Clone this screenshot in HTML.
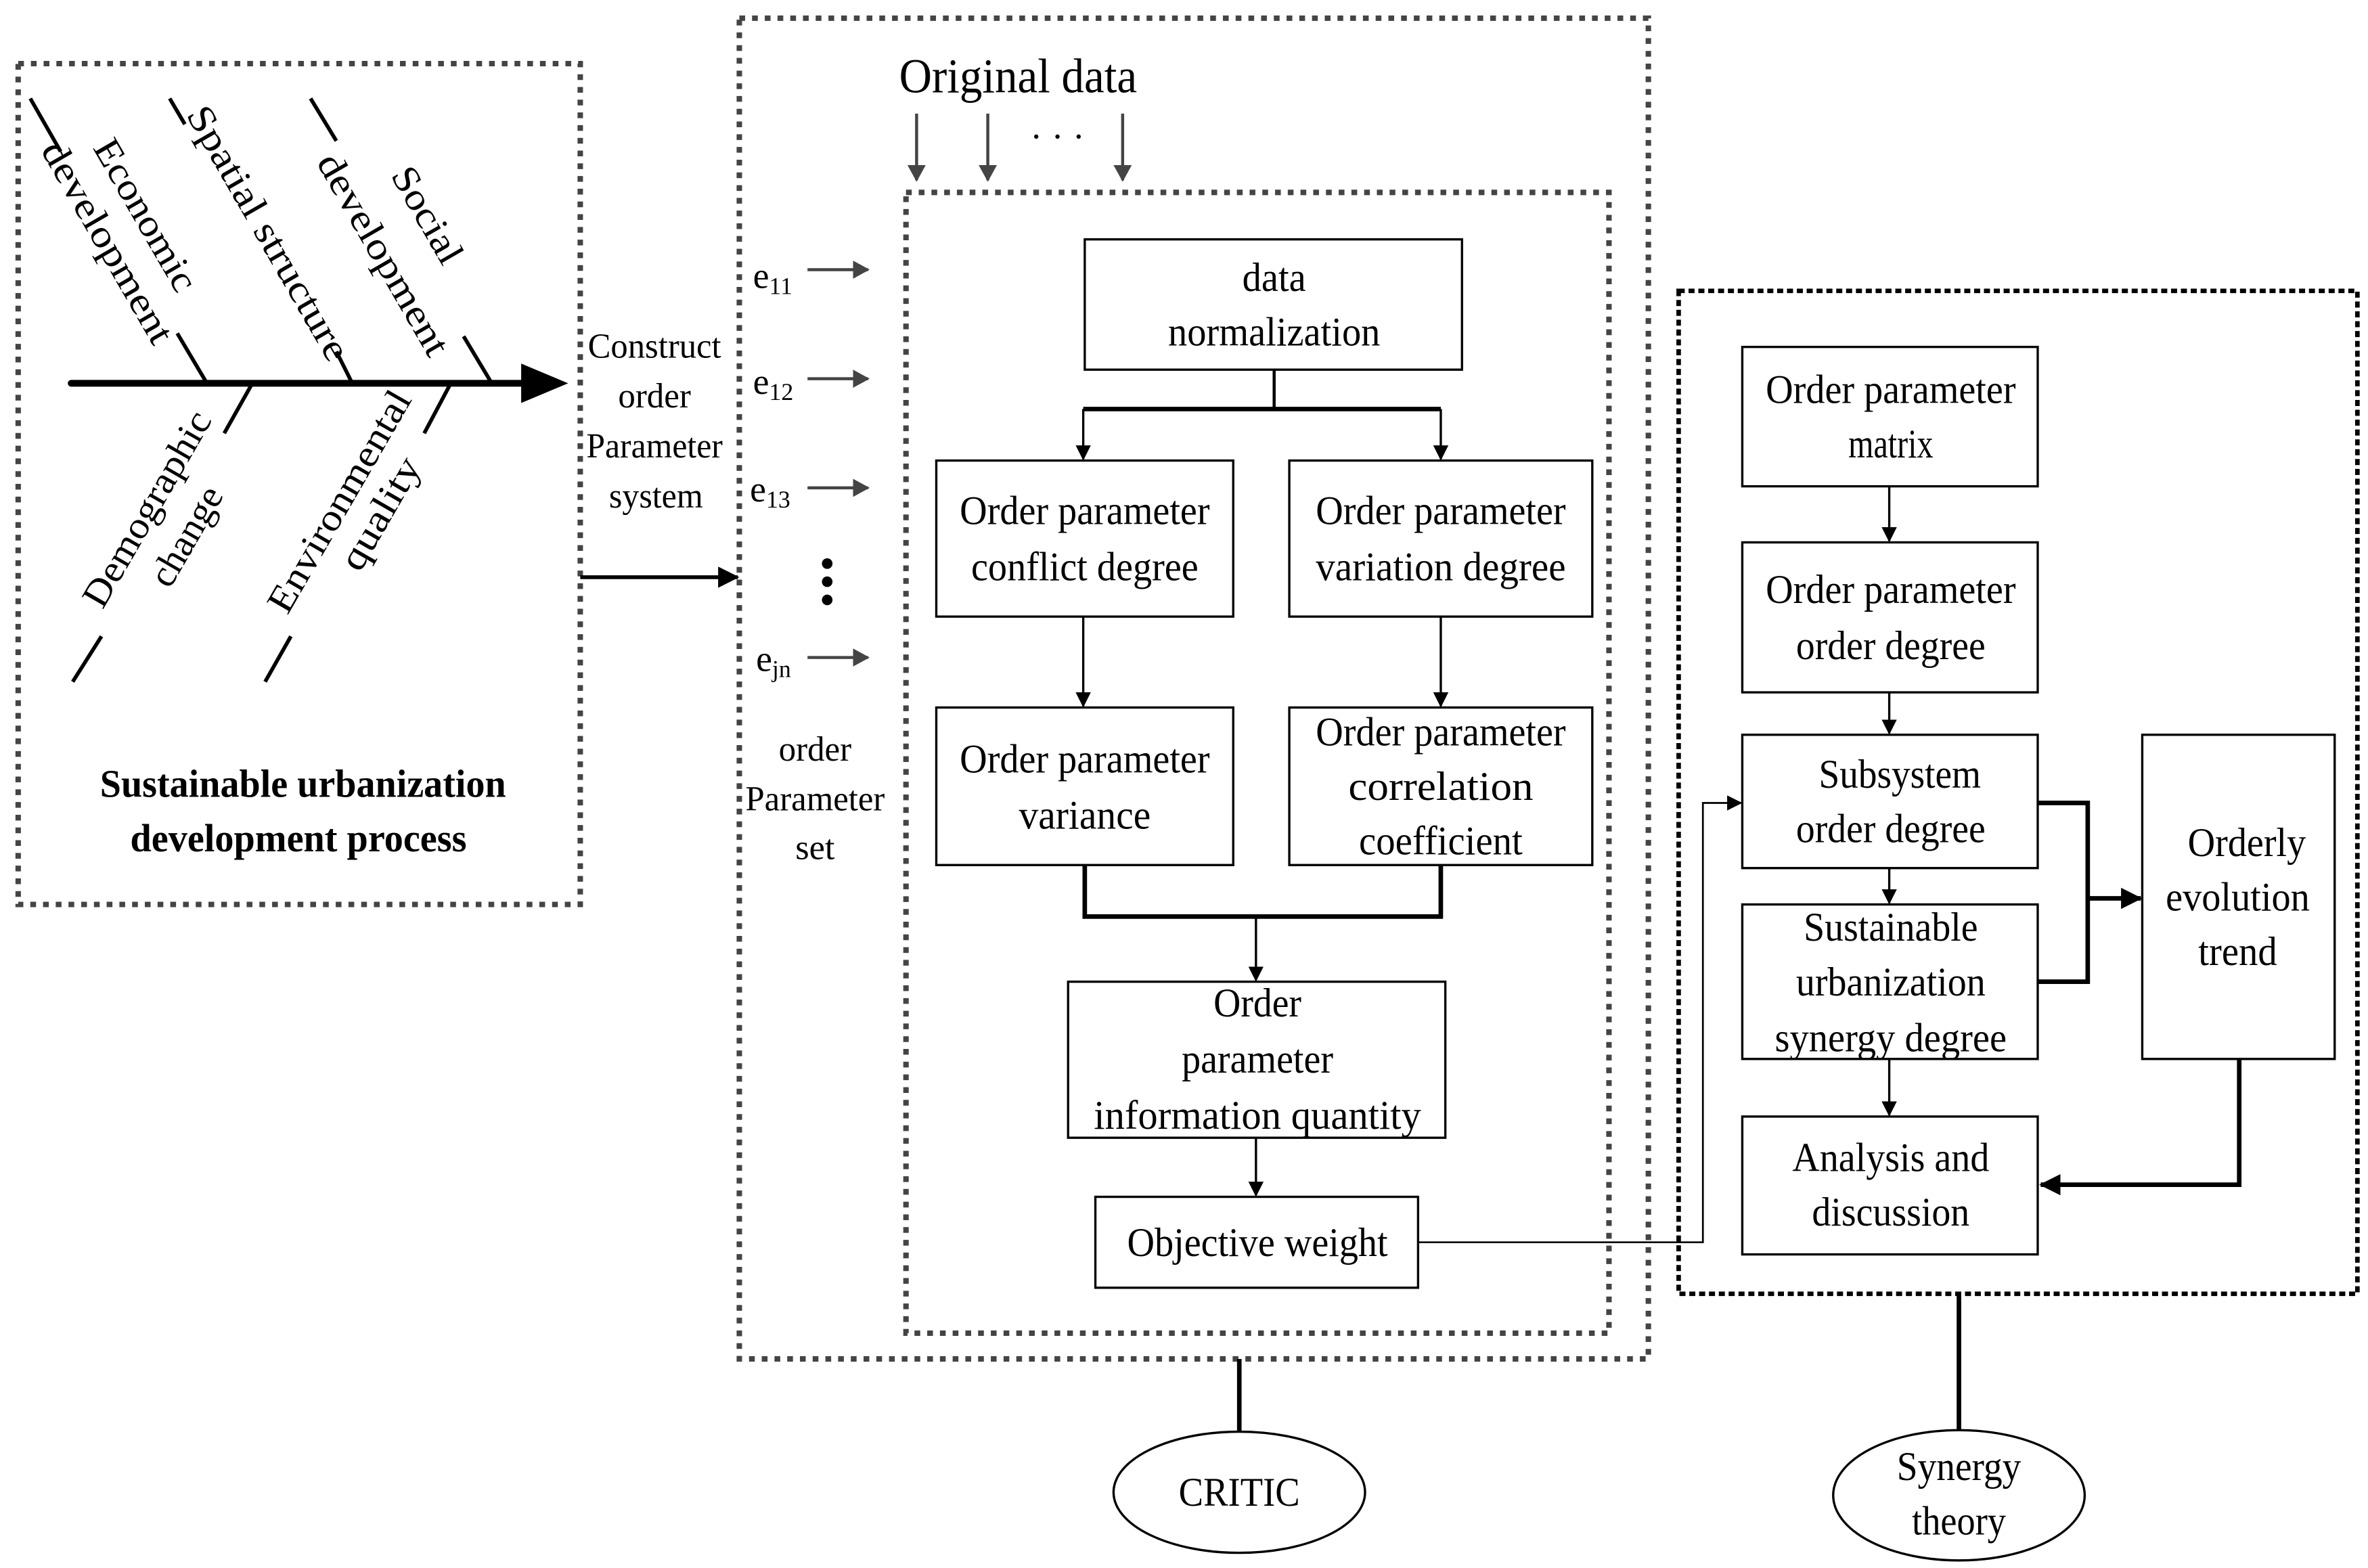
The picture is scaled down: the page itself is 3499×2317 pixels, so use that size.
<!DOCTYPE html>
<html><head><meta charset="utf-8"><style>
html,body{margin:0;padding:0;background:#fff;}
svg{display:block;}
text{font-family:"Liberation Serif",serif;fill:#000;}
</style></head><body>
<svg width="3499" height="2317" viewBox="0 0 1563 1035" preserveAspectRatio="none" xmlns="http://www.w3.org/2000/svg">
<defs>
<marker id="a" markerWidth="10" markerHeight="10" refX="9" refY="5" orient="auto" markerUnits="userSpaceOnUse" viewBox="0 0 10 10"><path d="M0,0 L10,5 L0,10 z" fill="#000"/></marker>
<marker id="g" markerWidth="11" markerHeight="12" refX="10" refY="6" orient="auto" markerUnits="userSpaceOnUse" viewBox="0 0 11 12"><path d="M0,0 L11,6 L0,12 z" fill="#444"/></marker>
<marker id="b" markerWidth="14" markerHeight="14" refX="13" refY="7" orient="auto" markerUnits="userSpaceOnUse" viewBox="0 0 14 14"><path d="M0,0 L14,7 L0,14 z" fill="#000"/></marker>
</defs>

<!-- dotted boxes -->
<g fill="none" stroke="#444" stroke-width="3.6" stroke-dasharray="3.8 4.6">
<rect x="12" y="42" width="371" height="555"/>
<rect x="488" y="12" width="600" height="885"/>
<rect x="598" y="127" width="464" height="753"/>
</g>
<rect x="1108" y="192" width="448" height="662" fill="none" stroke="#000" stroke-width="3" stroke-dasharray="4 2.5"/>

<!-- fishbone -->
<g stroke="#000" stroke-width="2.5" fill="none">
<line x1="20" y1="65" x2="40" y2="100"/><line x1="117" y1="220" x2="136" y2="252"/>
<line x1="112" y1="65" x2="122" y2="82"/><line x1="222" y1="232" x2="232" y2="252"/>
<line x1="205" y1="65" x2="222" y2="93"/><line x1="306" y1="222" x2="324" y2="252"/>
<line x1="166" y1="254" x2="148" y2="286"/><line x1="67" y1="420" x2="48" y2="450"/>
<line x1="297" y1="254" x2="280" y2="286"/><line x1="192" y1="420" x2="175" y2="450"/>
</g>
<line x1="47" y1="253" x2="346" y2="253" stroke="#000" stroke-width="4.5" stroke-linecap="round"/>
<path d="M344,240 L375,253 L344,266 z" fill="#000"/>

<g font-size="25">
<text transform="translate(89,146) rotate(60)" text-anchor="middle" textLength="112" lengthAdjust="spacingAndGlyphs">Economic</text>
<text transform="translate(64,164) rotate(60)" text-anchor="middle" textLength="150" lengthAdjust="spacingAndGlyphs">development</text>
<text transform="translate(170,158) rotate(60)" text-anchor="middle" textLength="190" lengthAdjust="spacingAndGlyphs">Spatial structure</text>
<text transform="translate(275,146) rotate(60)" text-anchor="middle" textLength="70" lengthAdjust="spacingAndGlyphs">Social</text>
<text transform="translate(246,172) rotate(60)" text-anchor="middle" textLength="150" lengthAdjust="spacingAndGlyphs">development</text>
<text transform="translate(104,340) rotate(-60)" text-anchor="middle" textLength="145" lengthAdjust="spacingAndGlyphs">Demographic</text>
<text transform="translate(130,358) rotate(-60)" text-anchor="middle" textLength="72" lengthAdjust="spacingAndGlyphs">change</text>
<text transform="translate(231,335) rotate(-60)" text-anchor="middle" textLength="165" lengthAdjust="spacingAndGlyphs">Environmental</text>
<text transform="translate(258,343) rotate(-60)" text-anchor="middle" textLength="82" lengthAdjust="spacingAndGlyphs">quality</text>
</g>
<g font-size="26" font-weight="bold" text-anchor="middle">
<text x="200" y="526" textLength="268" lengthAdjust="spacingAndGlyphs">Sustainable urbanization</text>
<text x="197" y="562" textLength="222" lengthAdjust="spacingAndGlyphs">development process</text>
</g>

<g font-size="23" text-anchor="middle">
<text x="432" y="236" textLength="88" lengthAdjust="spacingAndGlyphs">Construct</text>
<text x="432" y="269" textLength="48" lengthAdjust="spacingAndGlyphs">order</text>
<text x="432" y="302" textLength="90" lengthAdjust="spacingAndGlyphs">Parameter</text>
<text x="433" y="335" textLength="62" lengthAdjust="spacingAndGlyphs">system</text>
<text x="538" y="502" textLength="48" lengthAdjust="spacingAndGlyphs">order</text>
<text x="538" y="535" textLength="92" lengthAdjust="spacingAndGlyphs">Parameter</text>
<text x="538" y="567" textLength="26" lengthAdjust="spacingAndGlyphs">set</text>
</g>
<line x1="383" y1="381" x2="487" y2="381" stroke="#000" stroke-width="2.5" marker-end="url(#b)"/>

<!-- original data -->
<text x="672" y="61" font-size="32" text-anchor="middle" textLength="157" lengthAdjust="spacingAndGlyphs">Original data</text>
<g stroke="#444" stroke-width="2">
<line x1="605" y1="75" x2="605" y2="119" marker-end="url(#g)"/>
<line x1="652" y1="75" x2="652" y2="119" marker-end="url(#g)"/>
<line x1="741" y1="75" x2="741" y2="119" marker-end="url(#g)"/>
</g>
<text x="698" y="98" font-size="24" text-anchor="middle">· · ·</text>

<!-- e labels -->
<g font-size="24">
<text x="497" y="190">e<tspan font-size="16" dy="4">11</tspan></text>
<text x="497" y="260">e<tspan font-size="16" dy="4">12</tspan></text>
<text x="495" y="331">e<tspan font-size="16" dy="4">13</tspan></text>
<text x="499" y="443">e<tspan font-size="16" dy="4">jn</tspan></text>
</g>
<g stroke="#444" stroke-width="2">
<line x1="533" y1="178" x2="573" y2="178" marker-end="url(#g)"/>
<line x1="533" y1="250" x2="573" y2="250" marker-end="url(#g)"/>
<line x1="533" y1="322" x2="573" y2="322" marker-end="url(#g)"/>
<line x1="533" y1="434" x2="573" y2="434" marker-end="url(#g)"/>
</g>
<g fill="#000"><circle cx="546" cy="372" r="3.5"/><circle cx="546" cy="384" r="3.5"/><circle cx="546" cy="396" r="3.5"/></g>

<!-- CRITIC boxes -->
<g fill="#fff" stroke="#000" stroke-width="1.5">
<rect x="716" y="158" width="249" height="86"/>
<rect x="618" y="304" width="196" height="103"/>
<rect x="851" y="304" width="200" height="103"/>
<rect x="618" y="467" width="196" height="104"/>
<rect x="851" y="467" width="200" height="104"/>
<rect x="705" y="648" width="249" height="103"/>
<rect x="723" y="790" width="213" height="60"/>
</g>
<g font-size="27" text-anchor="middle">
<text x="841" y="192" textLength="42" lengthAdjust="spacingAndGlyphs">data</text>
<text x="841" y="228" textLength="140" lengthAdjust="spacingAndGlyphs">normalization</text>
<text x="716" y="346" textLength="165" lengthAdjust="spacingAndGlyphs">Order parameter</text>
<text x="716" y="383" textLength="150" lengthAdjust="spacingAndGlyphs">conflict degree</text>
<text x="951" y="346" textLength="165" lengthAdjust="spacingAndGlyphs">Order parameter</text>
<text x="951" y="383" textLength="165" lengthAdjust="spacingAndGlyphs">variation degree</text>
<text x="716" y="510" textLength="165" lengthAdjust="spacingAndGlyphs">Order parameter</text>
<text x="716" y="547" textLength="87" lengthAdjust="spacingAndGlyphs">variance</text>
<text x="951" y="492" textLength="165" lengthAdjust="spacingAndGlyphs">Order parameter</text>
<text x="951" y="528" textLength="122" lengthAdjust="spacingAndGlyphs">correlation</text>
<text x="951" y="564" textLength="108" lengthAdjust="spacingAndGlyphs">coefficient</text>
<text x="830" y="671" textLength="58" lengthAdjust="spacingAndGlyphs">Order</text>
<text x="830" y="708" textLength="100" lengthAdjust="spacingAndGlyphs">parameter</text>
<text x="830" y="745" textLength="216" lengthAdjust="spacingAndGlyphs">information quantity</text>
<text x="830" y="829" textLength="172" lengthAdjust="spacingAndGlyphs">Objective weight</text>
</g>
<g stroke="#000" fill="none">
<polyline points="841,244 841,270" stroke-width="2"/>
<polyline points="715,270 951,270" stroke-width="3"/>
<line x1="715" y1="270" x2="715" y2="303" stroke-width="1.5" marker-end="url(#a)"/>
<line x1="951" y1="270" x2="951" y2="303" stroke-width="1.5" marker-end="url(#a)"/>
<line x1="715" y1="407" x2="715" y2="466" stroke-width="1.5" marker-end="url(#a)"/>
<line x1="951" y1="407" x2="951" y2="466" stroke-width="1.5" marker-end="url(#a)"/>
<polyline points="716,571 716,605 951,605 951,571" stroke-width="3"/>
<line x1="829" y1="605" x2="829" y2="647" stroke-width="1.5" marker-end="url(#a)"/>
<line x1="829" y1="751" x2="829" y2="789" stroke-width="1.5" marker-end="url(#a)"/>
<polyline points="936,820 1124,820 1124,530 1149,530" stroke-width="1.2" marker-end="url(#a)"/>
</g>

<!-- synergy boxes -->
<g fill="#fff" stroke="#000" stroke-width="1.5">
<rect x="1150" y="229" width="195" height="92"/>
<rect x="1150" y="358" width="195" height="99"/>
<rect x="1150" y="485" width="195" height="88"/>
<rect x="1150" y="597" width="195" height="102"/>
<rect x="1150" y="737" width="195" height="91"/>
<rect x="1414" y="485" width="127" height="214"/>
</g>
<g font-size="27" text-anchor="middle">
<text x="1248" y="266" textLength="165" lengthAdjust="spacingAndGlyphs">Order parameter</text>
<text x="1248" y="302" textLength="56" lengthAdjust="spacingAndGlyphs">matrix</text>
<text x="1248" y="398" textLength="165" lengthAdjust="spacingAndGlyphs">Order parameter</text>
<text x="1248" y="435" textLength="125" lengthAdjust="spacingAndGlyphs">order degree</text>
<text x="1254" y="520" textLength="107" lengthAdjust="spacingAndGlyphs">Subsystem</text>
<text x="1248" y="556" textLength="125" lengthAdjust="spacingAndGlyphs">order degree</text>
<text x="1248" y="621" textLength="115" lengthAdjust="spacingAndGlyphs">Sustainable</text>
<text x="1248" y="657" textLength="125" lengthAdjust="spacingAndGlyphs">urbanization</text>
<text x="1248" y="694" textLength="153" lengthAdjust="spacingAndGlyphs">synergy degree</text>
<text x="1248" y="773" textLength="130" lengthAdjust="spacingAndGlyphs">Analysis and</text>
<text x="1248" y="809" textLength="104" lengthAdjust="spacingAndGlyphs">discussion</text>
<text x="1483" y="565" textLength="78" lengthAdjust="spacingAndGlyphs">Orderly</text>
<text x="1477" y="601" textLength="95" lengthAdjust="spacingAndGlyphs">evolution</text>
<text x="1477" y="637" textLength="52" lengthAdjust="spacingAndGlyphs">trend</text>
</g>
<g stroke="#000" fill="none">
<line x1="1247" y1="321" x2="1247" y2="357" stroke-width="1.5" marker-end="url(#a)"/>
<line x1="1247" y1="457" x2="1247" y2="484" stroke-width="1.5" marker-end="url(#a)"/>
<line x1="1247" y1="573" x2="1247" y2="596" stroke-width="1.5" marker-end="url(#a)"/>
<line x1="1247" y1="699" x2="1247" y2="736" stroke-width="1.5" marker-end="url(#a)"/>
<polyline points="1345,530 1378,530 1378,648 1345,648" stroke-width="3"/>
<line x1="1378" y1="593" x2="1413" y2="593" stroke-width="3" marker-end="url(#b)"/>
<polyline points="1478,699 1478,782 1347,782" stroke-width="3" marker-end="url(#b)"/>
</g>

<!-- ellipses -->
<line x1="818" y1="897" x2="818" y2="945" stroke="#000" stroke-width="3"/>
<line x1="1293" y1="854" x2="1293" y2="945" stroke="#000" stroke-width="3"/>
<ellipse cx="818" cy="985" rx="83" ry="40" fill="#fff" stroke="#000" stroke-width="1.5"/>
<ellipse cx="1293" cy="987" rx="83" ry="43" fill="#fff" stroke="#000" stroke-width="1.5"/>
<g font-size="27" text-anchor="middle">
<text x="818" y="994" textLength="80" lengthAdjust="spacingAndGlyphs">CRITIC</text>
<text x="1293" y="977" textLength="82" lengthAdjust="spacingAndGlyphs">Synergy</text>
<text x="1293" y="1013" textLength="62" lengthAdjust="spacingAndGlyphs">theory</text>
</g>
</svg>
</body></html>
